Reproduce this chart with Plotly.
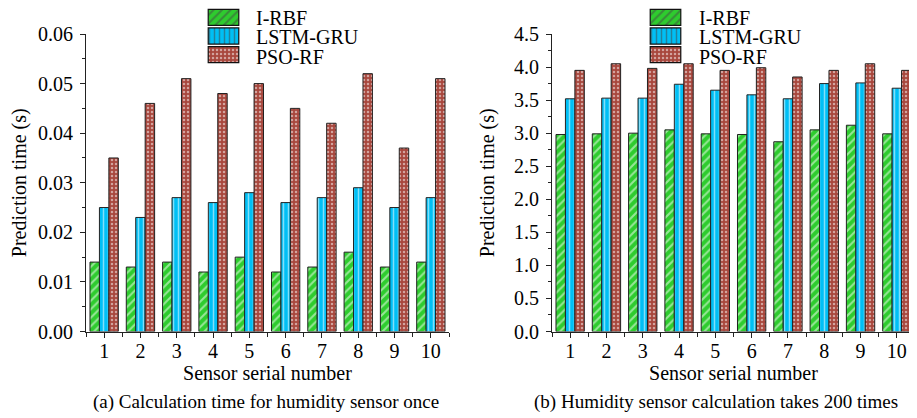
import plotly.graph_objects as go

sensors = [1, 2, 3, 4, 5, 6, 7, 8, 9, 10]
series_names = ["I-RBF", "LSTM-GRU", "PSO-RF"]

once_irbf = [0.014, 0.013, 0.014, 0.012, 0.015, 0.012, 0.013, 0.016, 0.013, 0.014]
once_lstm = [0.025, 0.023, 0.027, 0.026, 0.028, 0.026, 0.027, 0.029, 0.025, 0.027]
once_pso = [0.035, 0.046, 0.051, 0.048, 0.050, 0.045, 0.042, 0.052, 0.037, 0.051]

t200_irbf = [2.98, 2.99, 3.00, 3.05, 2.99, 2.98, 2.87, 3.05, 3.12, 2.99]
t200_lstm = [3.52, 3.53, 3.53, 3.74, 3.65, 3.58, 3.52, 3.75, 3.76, 3.68]
t200_pso = [3.95, 4.05, 3.98, 4.05, 3.95, 3.99, 3.85, 3.95, 4.05, 3.95]

left_ticks = [0.00, 0.01, 0.02, 0.03, 0.04, 0.05, 0.06]
left_ticklabels = ["0.00", "0.01", "0.02", "0.03", "0.04", "0.05", "0.06"]
right_ticks = [0.0, 0.5, 1.0, 1.5, 2.0, 2.5, 3.0, 3.5, 4.0, 4.5]
right_ticklabels = ["0.0", "0.5", "1.0", "1.5", "2.0", "2.5", "3.0", "3.5", "4.0", "4.5"]

captions = ["(a) Calculation time for humidity sensor once",
            "(b) Humidity sensor calculation takes 200 times"]
x_title = "Sensor serial number"
y_title = "Prediction time (s)"

FONT = "Liberation Serif"
colors = ["#2ECC2E", "#00BFF5", "#A8473D"]
shapes_ = ["/", "|", "."]
psizes = [6, 5, 4]
psolid = [0.35, 0.3, 0.3]

# page body has an 8px margin; figure sized so visible area matches 917x418
OFF = 8
W, H = 909, 410


def px(x):
    return min(1.0, max(0.0, (x - OFF) / W))


def py(y):
    return min(1.0, max(0.0, (H - (y - OFF)) / H))


fig = go.Figure()


def add_panel(values_list, xa, ya):
    for i, (name, vals) in enumerate(zip(series_names, values_list)):
        fig.add_trace(go.Bar(
            x=sensors, y=vals, name=name, xaxis=xa, yaxis=ya, showlegend=False,
            marker=dict(color=colors[i],
                        line=dict(color="#222222", width=1),
                        pattern=dict(shape=shapes_[i], fgcolor="white",
                                     size=psizes[i], solidity=psolid[i],
                                     fillmode="overlay")),
        ))


add_panel([once_irbf, once_lstm, once_pso], "x", "y")
add_panel([t200_irbf, t200_lstm, t200_pso], "x2", "y2")

# legend swatches (one patterned bar per series on small hidden axes)
swatch_full = [1, 1, 1]
for xa, ya in [("x3", "y3"), ("x4", "y4")]:
    fig.add_trace(go.Bar(
        y=series_names, x=swatch_full, orientation="h", xaxis=xa, yaxis=ya,
        showlegend=False, hoverinfo="skip", width=0.86,
        marker=dict(color=colors, line=dict(color="#111111", width=1.2),
                    pattern=dict(shape=shapes_, fgcolor="white", size=psizes,
                                 solidity=psolid, fillmode="overlay")),
    ))

ybot = py(331.5)
ytop = py(34)

xcommon = dict(
    range=[0.5, 10.5], tickvals=sensors, ticktext=[str(s) for s in sensors],
    ticks="outside", ticklen=5, tickwidth=1, tickcolor="#222",
    showline=True, linecolor="#222", linewidth=1.2, showgrid=False, zeroline=False,
    tickfont=dict(family=FONT, size=20, color="black"), automargin=False,
    ticklabelstandoff=-4,
    minor=dict(tick0=0.5, dtick=1, ticks="outside", ticklen=4, tickcolor="#222", showgrid=False),
    title=dict(text=x_title, font=dict(family=FONT, size=20, color="black"), standoff=2),
)
ycommon = dict(
    ticks="outside", ticklen=5, tickwidth=1, tickcolor="#222",
    showline=True, linecolor="#222", linewidth=1.2, showgrid=False, zeroline=False,
    tickfont=dict(family=FONT, size=20, color="black"), automargin=False,
    ticklabelstandoff=3,
)
hidden = dict(visible=False, showgrid=False, zeroline=False, automargin=False, fixedrange=True)
leg_ydom = [py(64), py(8)]

legend_text = []
for i, n in enumerate(series_names):
    for xl in (254, 697):
        legend_text.append(dict(
            text=n, x=px(xl), y=py(18 + 19.5 * i), xanchor="left", yanchor="middle",
            xref="paper", yref="paper", showarrow=False, font=dict(family=FONT, size=20)))

fig.update_layout(
    width=W, height=H,
    margin=dict(l=0, r=0, t=0, b=0, pad=0),
    paper_bgcolor="white", plot_bgcolor="rgba(0,0,0,0)",
    barmode="group", bargap=0.22, bargroupgap=0,
    font=dict(family=FONT, size=20, color="black"),
    showlegend=False,
    xaxis=dict(domain=[px(86), px(449)], anchor="y", **xcommon),
    yaxis=dict(domain=[ybot, ytop], anchor="x", range=[0, 0.06], tickvals=left_ticks,
               ticktext=left_ticklabels,
               minor=dict(dtick=0.005, ticks="outside", ticklen=3, tickcolor="#222", showgrid=False),
               title=dict(text=y_title, font=dict(family=FONT, size=20, color="black"), standoff=6),
               **ycommon),
    xaxis2=dict(domain=[px(552), px(915)], anchor="y2", **xcommon),
    yaxis2=dict(domain=[ybot, ytop], anchor="x2", range=[0, 4.5], tickvals=right_ticks,
                ticktext=right_ticklabels,
                minor=dict(dtick=0.25, ticks="outside", ticklen=3, tickcolor="#222", showgrid=False),
                title=dict(text=y_title, font=dict(family=FONT, size=20, color="black"), standoff=13),
                **ycommon),
    xaxis3=dict(domain=[px(207), px(240)], anchor="y3", range=[-0.04, 1.04], **hidden),
    yaxis3=dict(domain=leg_ydom, anchor="x3", range=[2.5, -0.5], type="category", **hidden),
    xaxis4=dict(domain=[px(649), px(682)], anchor="y4", range=[-0.04, 1.04], **hidden),
    yaxis4=dict(domain=leg_ydom, anchor="x4", range=[2.5, -0.5], type="category", **hidden),
    annotations=[
        dict(text=captions[0], x=px(266), y=py(402), xanchor="center", yanchor="middle",
             xref="paper", yref="paper", showarrow=False, font=dict(family=FONT, size=19)),
        dict(text=captions[1], x=px(716), y=py(402), xanchor="center", yanchor="middle",
             xref="paper", yref="paper", showarrow=False, font=dict(family=FONT, size=19)),
    ] + legend_text,
)

fig.write_html("out.html")
